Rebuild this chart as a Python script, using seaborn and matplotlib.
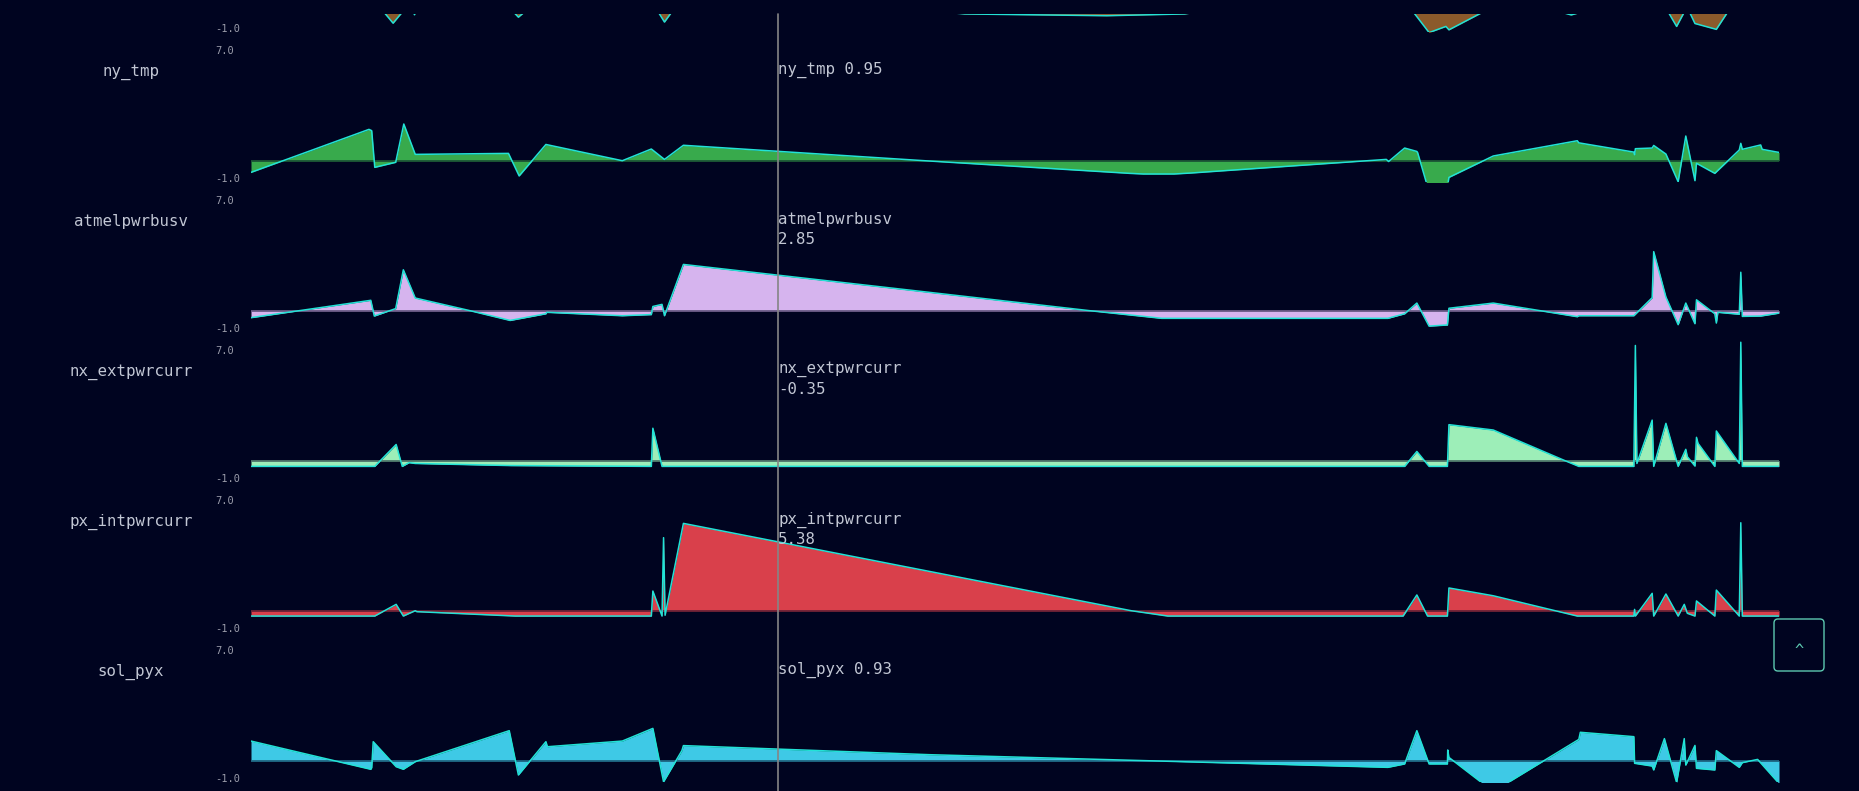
import numpy as np
import matplotlib
matplotlib.use("Agg")
import matplotlib.pyplot as plt
import seaborn as sns
from matplotlib.transforms import blended_transform_factory, IdentityTransform, ScaledTranslation
from matplotlib.lines import Line2D
from matplotlib.patches import FancyBboxPatch

# ---------------- data (time axis 0..100, values in panel units) ----------------
top_t = [0, 8.62, 9.3, 9.98, 10.6, 10.7, 10.8, 17.1, 17.5, 18.0, 26.6, 27.06, 27.6, 44.4, 46.7,
         56.0, 61.1, 62.5, 76.0, 77.1, 78.2, 78.4, 80.8, 85.4, 86.4, 87.4, 92.7, 93.3, 93.85, 94.1,
         94.5, 95.9, 96.7, 100]
top_v = [0.6, 0.0, -0.77, 0.0, 0.0, -0.25, 0.0, 0.0, -0.4, 0.0, 0.0, -0.7, 0.0, 0.0, -0.2,
         -0.31, -0.2, 0.0, 0.0, -1.35, -0.97, -1.18, 0.0, 0.0, -0.26, 0.0, 0.0, -0.97, 0.0, 0.0,
         -0.79, -1.15, 0.0, 0.4]

ny_t = [0, 7.72, 7.9, 8.1, 9.47, 10.0, 10.75, 16.85, 17.55, 19.3, 24.3, 26.2, 27.06, 28.3, 44.4,
        57.5, 58.4, 60.4, 61.5, 74.3, 74.45, 75.5, 76.3, 76.35, 77.0, 78.3, 78.4, 81.3, 86.8, 86.9,
        90.5, 90.55, 90.6, 91.7, 91.8, 92.6, 93.4, 93.9, 94.5, 94.6, 95.8, 97.4, 97.5, 97.6, 98.8,
        98.9, 100]
ny_v = [-0.72, 1.93, 1.85, -0.41, -0.1, 2.26, 0.39, 0.45, -0.94, 1.0, 0.0, 0.72, 0.08, 0.95, -0.02,
        -0.78, -0.82, -0.82, -0.76, 0.08, -0.05, 0.78, 0.57, 0.5, -1.6, -1.6, -1.03, 0.29, 1.23, 1.1,
        0.53, 0.37, 0.74, 0.78, 0.94, 0.41, -1.3, 1.52, -1.23, -0.16, -0.78, 0.66, 1.07, 0.7, 0.97,
        0.7, 0.51]

atm_t = [0, 7.84, 8.07, 9.47, 9.97, 10.75, 14.25, 16.96, 19.3, 19.36, 24.3, 26.2, 26.3, 26.9, 27.06,
         28.3, 44.4, 54.9, 59.6, 74.4, 75.5, 76.3, 77.1, 78.3, 78.4, 81.3, 86.8, 86.9, 90.5, 91.7,
         91.8, 92.6, 93.4, 93.9, 94.5, 94.6, 95.8, 95.9, 96.0, 97.4, 97.5, 97.6, 98.8, 100]
atm_v = [-0.43, 0.64, -0.33, 0.13, 2.52, 0.78, 0.02, -0.6, -0.19, -0.1, -0.31, -0.24, 0.26, 0.39, -0.31,
         2.85, 1.13, 0.0, -0.47, -0.47, -0.19, 0.47, -0.95, -0.88, 0.15, 0.47, -0.37, -0.31, -0.31, 0.8,
         3.64, 0.84, -0.86, 0.47, -0.8, 0.67, -0.19, -0.76, -0.1, -0.22, 2.37, -0.35, -0.33, -0.15]

nx_t = [0, 8.1, 9.5, 9.9, 10.35, 10.75, 17.0, 26.2, 26.3, 26.9, 75.5, 76.3, 77.1, 78.3, 78.4,
        81.3, 86.0, 86.9, 90.5, 90.6, 90.7, 91.7, 91.8, 92.6, 93.4, 93.9, 94.0, 94.5, 94.6, 94.7,
        95.8, 95.9, 97.4, 97.5, 97.6, 100]
nx_v = [-0.35, -0.35, 1.0, -0.35, -0.12, -0.17, -0.3, -0.35, 2.0, -0.35, -0.35, 0.57, -0.35, -0.35, 2.22,
        1.89, 0.0, -0.35, -0.35, 7.1, -0.17, 2.5, -0.35, 2.3, -0.35, 0.7, 0.25, -0.33, 1.44, 1.07,
        -0.35, 1.83, -0.17, 7.3, -0.35, -0.35]

px_t = [0, 8.1, 9.5, 9.97, 10.75, 10.85, 17.3, 26.2, 26.3, 26.9, 27.0, 27.1, 28.3, 44.4, 57.6,
        60.0, 75.4, 76.3, 77.0, 78.3, 78.4, 81.3, 86.8, 90.5, 90.55, 90.6, 91.7, 91.8, 92.6, 93.4,
        93.8, 94.0, 94.5, 94.6, 95.8, 95.9, 97.4, 97.5, 97.6, 100]
px_v = [-0.33, -0.33, 0.39, -0.33, 0.0, -0.06, -0.33, -0.33, 1.21, -0.33, 4.5, -0.28, 5.38, 2.42, 0.0,
        -0.33, -0.33, 0.97, -0.33, -0.33, 1.4, 0.92, -0.33, -0.33, 0.08, -0.33, 1.07, -0.33, 1.03, -0.33,
        0.39, -0.16, -0.33, 0.6, -0.33, 1.27, -0.33, 5.42, -0.33, -0.33]

sol_t = [0, 7.84, 7.9, 8.0, 9.5, 9.97, 10.75, 16.9, 17.5, 19.3, 19.4, 24.3, 26.3, 27.0, 28.2,
         28.3, 44.4, 74.4, 75.5, 76.3, 77.1, 78.3, 78.32, 78.4, 81.3, 86.9, 87.0, 90.5, 90.55, 91.7,
         91.8, 92.5, 93.3, 93.8, 93.9, 94.5, 94.6, 95.8, 95.9, 97.4, 97.6, 98.6, 100]
sol_v = [1.21, -0.53, -0.43, 1.17, -0.37, -0.53, -0.06, 1.85, -0.88, 1.17, 0.86, 1.21, 1.99, -1.3, 0.62,
         0.93, 0.37, -0.41, -0.2, 1.85, -0.2, -0.2, 0.66, 0.2, -1.9, 1.31, 1.75, 1.48, -0.16, -0.33,
         -0.57, 1.36, -1.35, 1.36, -0.27, 0.94, -0.47, -0.57, 0.62, -0.41, -0.12, 0.08, -1.4]

series_names = ["", "ny_tmp", "atmelpwrbusv", "nx_extpwrcurr", "px_intpwrcurr", "sol_pyx"]
series_t = [top_t, ny_t, atm_t, nx_t, px_t, sol_t]
series_v = [top_v, ny_v, atm_v, nx_v, px_v, sol_v]
fill_colors = ["#8b5a2b", "#38aa4c", "#d6b4ee", "#9deeb8", "#d9404b", "#3ec9e6"]
tick_values = [-1.0, 7.0]
tick_labels = ["-1.0", "7.0"]
cursor_t = 34.5

# ---------------- style ----------------
BG = "#000420"
LINE = "#22e3d6"
TXT = "#c2c7d4"
TICK = "#9a9caa"
BTN = "#5cc8b0"
W, H = 1859, 791

sns.set_theme(style="dark", rc={"axes.facecolor": BG, "figure.facecolor": BG,
                                "savefig.facecolor": BG})
plt.rcParams["font.family"] = ["DejaVu Sans Mono", "DejaVu Sans"]

fig = plt.figure(figsize=(W / 100, H / 100), dpi=100)

PX_UNIT = 16.23          # pixels per value unit
PANEL_H = 150.0          # pixel height of a panel
Y_LO = -1.3
Y_HI = Y_LO + PANEL_H / PX_UNIT
LEFT, RIGHT = 251, 1779
BASE0 = 10.7             # baseline of first (scrolled-away) panel
VIEW_TOP = 14


def blend(c1, c2, a):
    r1 = np.array(matplotlib.colors.to_rgb(c1))
    r2 = np.array(matplotlib.colors.to_rgb(c2))
    return tuple(r1 * a + r2 * (1 - a))


axes = []
for k, (name, t, v, fc) in enumerate(zip(series_names, series_t, series_v, fill_colors)):
    base = BASE0 + PANEL_H * k
    bottom_px = base - Y_LO * PX_UNIT
    top_px = bottom_px - PANEL_H
    y_hi = Y_HI
    if top_px < VIEW_TOP:
        top_px = VIEW_TOP
        y_hi = (base - VIEW_TOP) / PX_UNIT
    ax = fig.add_axes([LEFT / W, 1 - bottom_px / H, (RIGHT - LEFT) / W, (bottom_px - top_px) / H])
    ax.set_facecolor("none")
    ax.fill_between(t, 0, v, color=fc, lw=0, zorder=1)
    ax.axhline(0, color=blend(fc, BG, 0.5), lw=1.3, zorder=2)
    sns.lineplot(x=t, y=v, ax=ax, color=LINE, lw=1.1, estimator=None, sort=False,
                 zorder=3, legend=False)
    ax.set_xlim(0, 100)
    ax.set_ylim(Y_LO, y_hi)
    for s in ax.spines.values():
        s.set_visible(False)
    ax.set_xticks([])
    ax.set_xlabel("")
    ax.set_ylabel("")
    vis = [(tv, tl) for tv, tl in zip(tick_values, tick_labels) if Y_LO <= tv <= y_hi]
    ax.set_yticks([p[0] for p in vis])
    ax.set_yticklabels([p[1] for p in vis])
    ax.tick_params(axis="y", length=0, pad=(LEFT - 215) * 0.72, labelsize=7.5, labelcolor=TICK)
    for lbl in ax.get_yticklabels():
        lbl.set_horizontalalignment("left")
        shift = -3.0 if lbl.get_text() == "7.0" else -1.0
        lbl.set_transform(lbl.get_transform() + ScaledTranslation(0, shift / 100, fig.dpi_scale_trans))
    ax.grid(False)

    if name:
        tr = blended_transform_factory(ax.transAxes, ax.transData)
        ax.text((131 - LEFT) / (RIGHT - LEFT), 5.47, name, transform=tr, ha="center",
                va="center", fontsize=11.3, color=TXT)
        i = int(np.searchsorted(t, cursor_t, side="right")) - 1
        val = f"{v[i]:.2f}"
        if len(name) <= 8:
            ax.text(cursor_t, 5.62, f"{name} {val}", ha="left", va="center",
                    fontsize=11.3, color=TXT, zorder=5)
        else:
            ax.text(cursor_t, 5.62, name, ha="left", va="center", fontsize=11.3,
                    color=TXT, zorder=5)
            ax.text(cursor_t, 5.62 - 20 / PX_UNIT, val, ha="left", va="center",
                    fontsize=11.3, color=TXT, zorder=5)
    axes.append(ax)

# cursor line across all panels
cur_tr = blended_transform_factory(axes[-1].transData, fig.transFigure)
fig.add_artist(Line2D([cursor_t, cursor_t], [0, 1 - VIEW_TOP / H], transform=cur_tr,
                      color="#858585", lw=1.2, zorder=10))

# scroll-to-top button
btn = FancyBboxPatch((1774, H - 671), 50, 52, boxstyle="round,pad=0,rounding_size=4",
                     transform=IdentityTransform(), fc=BG, ec=BTN, lw=1.0, zorder=11)
fig.add_artist(btn)
fig.text(1799, H - 650, "^", transform=IdentityTransform(), ha="center", va="center",
         fontsize=11, color=BTN, zorder=12)

fig.savefig("out.png", dpi=100, facecolor=BG)
